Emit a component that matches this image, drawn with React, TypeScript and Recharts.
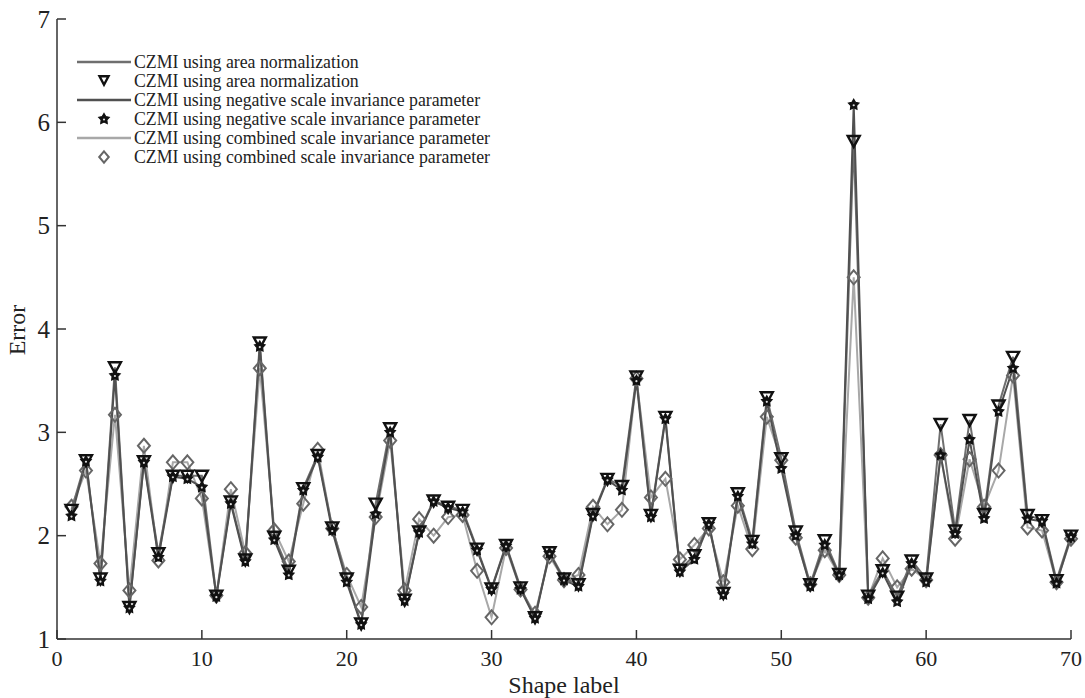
import React from 'react';
import { ComposedChart, Line, XAxis, YAxis } from 'recharts';

const shapeLabels = Array.from({ length: 70 }, (_, i) => i + 1);

const areaNorm = [
  2.25, 2.73, 1.585, 3.63, 1.31, 2.72, 1.83, 2.58, 2.58, 2.58,
  1.42, 2.33, 1.77, 3.87, 1.99, 1.66, 2.46, 2.78, 2.08, 1.585,
  1.15, 2.31, 3.04, 1.38, 2.04, 2.34, 2.28, 2.25, 1.875, 1.49,
  1.91, 1.5, 1.21, 1.84, 1.585, 1.53, 2.21, 2.55, 2.48, 3.54,
  2.2, 3.15, 1.67, 1.81, 2.12, 1.445, 2.41, 1.95, 3.34, 2.75,
  2.04, 1.53, 1.955, 1.63, 5.82, 1.42, 1.665, 1.41, 1.76, 1.585,
  3.08, 2.05, 3.12, 2.21, 3.26, 3.73, 2.2, 2.15, 1.57, 2.0,
];

const negativeScale = [
  2.19, 2.72, 1.56, 3.55, 1.3, 2.71, 1.79, 2.57, 2.55, 2.47,
  1.41, 2.31, 1.75, 3.83, 1.96, 1.62, 2.44, 2.76, 2.05, 1.55,
  1.14, 2.21, 3.0, 1.37, 2.03, 2.33, 2.27, 2.23, 1.86, 1.48,
  1.9, 1.48, 1.2, 1.83, 1.57, 1.51, 2.19, 2.54, 2.44, 3.5,
  2.18, 3.13, 1.65, 1.77, 2.11, 1.43, 2.38, 1.92, 3.3, 2.65,
  2.0, 1.51, 1.91, 1.62, 6.17, 1.39, 1.64, 1.36, 1.73, 1.55,
  2.78, 2.02, 2.93, 2.165, 3.2, 3.62, 2.16, 2.14, 1.54, 1.99,
];

const combinedScale = [
  2.28, 2.63, 1.73, 3.17, 1.47, 2.87, 1.76, 2.71, 2.71, 2.36,
  1.42, 2.45, 1.83, 3.62, 2.05, 1.75, 2.31, 2.83, 2.07, 1.62,
  1.31, 2.18, 2.92, 1.47, 2.16, 2.0, 2.18, 2.2, 1.66, 1.21,
  1.88, 1.48, 1.245, 1.8, 1.57, 1.62, 2.28, 2.11, 2.25, 3.52,
  2.37, 2.55, 1.77, 1.91, 2.07, 1.55, 2.29, 1.87, 3.15, 2.73,
  1.98, 1.53, 1.86, 1.62, 4.5, 1.4, 1.78, 1.5, 1.68, 1.57,
  2.78, 1.97, 2.74, 2.28, 2.63, 3.55, 2.08, 2.05, 1.55, 1.97,
];

const xTicks = [0, 10, 20, 30, 40, 50, 60, 70];
const yTicks = [1, 2, 3, 4, 5, 6, 7];

const legendLabels = [
  'CZMI using area normalization',
  'CZMI using area normalization',
  'CZMI using negative scale invariance parameter',
  'CZMI using negative scale invariance parameter',
  'CZMI using combined scale invariance parameter',
  'CZMI using combined scale invariance parameter',
];

const data = shapeLabels.map((x, i) => ({
  x,
  a: areaNorm[i],
  n: negativeScale[i],
  c: combinedScale[i],
}));

const FONT = '"Liberation Serif", "Times New Roman", serif';
const AREA_LINE = '#6f6f6f';
const NEG_LINE = '#505050';
const COMB_LINE = '#a8a8a8';
const AXIS = '#333333';

const Tri = ({ cx, cy, s = 1 }: any) => {
  const w = 6 * s;
  const h = 5 * s;
  return (
    <path
      d={`M${cx - w},${cy - h} L${cx + w},${cy - h} L${cx},${cy + h + 1} Z`}
      fill="none"
      stroke="#111"
      strokeWidth={2.4}
      strokeLinejoin="miter"
    />
  );
};

const starPath = (cx: number, cy: number, R: number, r: number) => {
  const pts: string[] = [];
  for (let k = 0; k < 10; k++) {
    const ang = -Math.PI / 2 + (k * Math.PI) / 5;
    const rad = k % 2 === 0 ? R : r;
    pts.push(`${(cx + rad * Math.cos(ang)).toFixed(2)},${(cy + rad * Math.sin(ang)).toFixed(2)}`);
  }
  return `M${pts.join(' L')} Z`;
};

const Star = ({ cx, cy }: any) => (
  <g>
    <path d={starPath(cx, cy, 5.5, 3)} fill="#111" stroke="#111" strokeWidth={1.2} />
    <circle cx={cx} cy={cy + 0.5} r={1.1} fill="#ddd" />
  </g>
);

const Diamond = ({ cx, cy, s = 1 }: any) => {
  const w = 6 * s;
  const h = 7 * s;
  return (
    <path
      d={`M${cx},${cy - h} L${cx + w},${cy} L${cx},${cy + h} L${cx - w},${cy} Z`}
      fill="none"
      stroke="#666"
      strokeWidth={2}
    />
  );
};

const XTick = (props: any) => {
  const { x, y, payload } = props;
  return (
    <g>
      <line x1={x} y1={y} x2={x} y2={y - 9} stroke={AXIS} strokeWidth={1.5} />
      <text x={x} y={y + 27} textAnchor="middle" fontFamily={FONT} fontSize={22} fill="#222">
        {payload.value}
      </text>
    </g>
  );
};

const YTick = (props: any) => {
  const { x, y, payload } = props;
  return (
    <g>
      <line x1={x} y1={y} x2={x + 9} y2={y} stroke={AXIS} strokeWidth={1.5} />
      <text x={x - 7} y={y} dy="0.35em" textAnchor="end" fontFamily={FONT} fontSize={25} fill="#222">
        {payload.value}
      </text>
    </g>
  );
};

const LegendOverlay = () => {
  const rows = [62, 81, 100, 119, 138, 157];
  const lineColors = [AREA_LINE, NEG_LINE, COMB_LINE];
  return (
    <svg
      width={1085}
      height={698}
      style={{ position: 'absolute', left: 0, top: 0, pointerEvents: 'none' }}
    >
      {legendLabels.map((label, i) => {
        const y = rows[i];
        const series = Math.floor(i / 2);
        const isLine = i % 2 === 0;
        return (
          <g key={i}>
            {isLine ? (
              <line x1={77} x2={131} y1={y} y2={y} stroke={lineColors[series]} strokeWidth={2.5} />
            ) : series === 0 ? (
              <Tri cx={104} cy={y - 1} s={0.75} />
            ) : series === 1 ? (
              <Star cx={104} cy={y} />
            ) : (
              <Diamond cx={104} cy={y} s={0.8} />
            )}
            <text x={134} y={y} dy="0.33em" fontFamily={FONT} fontSize={17.8} fill="#222">
              {label}
            </text>
          </g>
        );
      })}
    </svg>
  );
};

export default function App() {
  return (
    <div style={{ position: 'absolute', left: 0, top: 0, width: 1085, height: 698, background: '#fff' }}>
      <ComposedChart
        width={1085}
        height={698}
        data={data}
        margin={{ top: 19, right: 14, bottom: 0, left: 0 }}
      >
        <XAxis
          dataKey="x"
          type="number"
          domain={[0, 70]}
          ticks={xTicks}
          height={59}
          tickSize={0}
          tickMargin={0}
          axisLine={{ stroke: AXIS, strokeWidth: 1.5 }}
          tickLine={false}
          tick={<XTick />}
          interval={0}
        />
        <YAxis
          type="number"
          domain={[1, 7]}
          ticks={yTicks}
          width={57}
          tickSize={0}
          tickMargin={0}
          axisLine={{ stroke: AXIS, strokeWidth: 1.5 }}
          tickLine={false}
          tick={<YTick />}
          interval={0}
        />
        <Line dataKey="c" stroke={COMB_LINE} strokeWidth={2} dot={false} isAnimationActive={false} />
        <Line dataKey="a" stroke={AREA_LINE} strokeWidth={2} dot={false} isAnimationActive={false} />
        <Line dataKey="n" stroke={NEG_LINE} strokeWidth={2} dot={false} isAnimationActive={false} />
        <Line
          dataKey="c"
          stroke="none"
          isAnimationActive={false}
          dot={(p: any) => <Diamond key={`d${p.index}`} cx={p.cx} cy={p.cy} />}
          activeDot={false}
        />
        <Line
          dataKey="a"
          stroke="none"
          isAnimationActive={false}
          dot={(p: any) => <Tri key={`t${p.index}`} cx={p.cx} cy={p.cy} />}
          activeDot={false}
        />
        <Line
          dataKey="n"
          stroke="none"
          isAnimationActive={false}
          dot={(p: any) => <Star key={`s${p.index}`} cx={p.cx} cy={p.cy} />}
          activeDot={false}
        />
      </ComposedChart>
      <svg width={1085} height={698} style={{ position: 'absolute', left: 0, top: 0, pointerEvents: 'none' }}>
        <text x={564} y={693} textAnchor="middle" fontFamily={FONT} fontSize={24} fill="#222">
          Shape label
        </text>
        <text
          x={0}
          y={0}
          transform="translate(25,330) rotate(-90)"
          textAnchor="middle"
          fontFamily={FONT}
          fontSize={24}
          fill="#222"
        >
          Error
        </text>
      </svg>
      <LegendOverlay />
    </div>
  );
}
